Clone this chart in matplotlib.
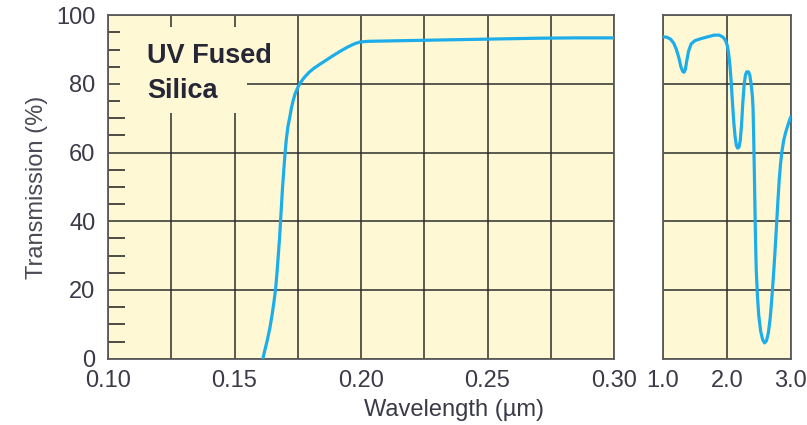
import matplotlib.pyplot as plt
from matplotlib.patches import Rectangle

# UV edge of the transmission curve (wavelength in um, transmission in %)
uv_wl = [0.1612, 0.1620, 0.1630, 0.1640, 0.1648, 0.1655, 0.1662, 0.1668, 0.1673,
         0.1678, 0.1682, 0.1686, 0.1690, 0.1695, 0.1700, 0.1705, 0.1711, 0.1719,
         0.1725, 0.1732, 0.1740, 0.1750, 0.1759, 0.1775, 0.1795, 0.1815, 0.1835,
         0.1860, 0.1889, 0.1920, 0.1949, 0.1975, 0.1996, 0.2030, 0.2100, 0.2250,
         0.2400, 0.2550, 0.2700, 0.2850, 0.3000]
uv_tr = [0.0, 2.5, 5.5, 9.0, 12.5, 16.0, 20.0, 25.0, 30.0,
         35.0, 40.0, 45.0, 50.0, 55.0, 60.0, 64.0, 67.5, 70.5,
         73.0, 75.2, 77.2, 78.9, 80.2, 81.8, 83.4, 84.6, 85.6,
         86.8, 88.2, 89.6, 90.8, 91.7, 92.2, 92.4, 92.5, 92.7,
         92.9, 93.1, 93.3, 93.4, 93.4]

# near-IR part, 1.0 - 3.0 um
ir_wl = [1.00, 1.06, 1.12, 1.17, 1.21, 1.25, 1.28, 1.31, 1.33, 1.35, 1.37,
         1.40, 1.44, 1.50, 1.60, 1.70, 1.80, 1.88, 1.94, 1.98, 2.01, 2.03,
         2.05, 2.07, 2.09, 2.11, 2.13, 2.15, 2.17, 2.19, 2.21, 2.23, 2.25,
         2.27, 2.29, 2.31, 2.34, 2.36, 2.38, 2.40, 2.41, 2.42, 2.43, 2.44,
         2.45, 2.46, 2.48, 2.50, 2.53, 2.56, 2.59, 2.62, 2.65, 2.68, 2.70,
         2.72, 2.74, 2.76, 2.78, 2.80, 2.82, 2.84, 2.86, 2.89, 2.92, 2.96,
         3.00]
ir_tr = [93.7, 93.6, 93.0, 91.8, 90.0, 87.5, 85.0, 83.6, 83.4, 84.2, 86.5,
         89.5, 91.6, 92.6, 93.2, 93.7, 94.2, 94.2, 93.6, 92.6, 91.0, 88.5,
         85.0, 80.0, 74.0, 68.5, 64.5, 62.0, 61.3, 61.6, 63.5, 68.0, 74.5,
         79.5, 82.5, 83.5, 83.5, 82.5, 80.0, 76.5, 73.0, 65.0, 55.0, 44.0,
         34.0, 26.0, 18.0, 12.5, 8.0, 5.6, 4.6, 5.2, 7.5, 12.0, 16.5,
         21.5, 27.0, 33.0, 39.5, 46.0, 52.0, 56.5, 60.0, 63.5, 65.8, 68.2,
         70.4]

uv_ticks = [0.10, 0.125, 0.15, 0.175, 0.20, 0.225, 0.25, 0.275, 0.30]
uv_ticklabels = ['0.10', '', '0.15', '', '0.20', '', '0.25', '', '0.30']
ir_ticks = [1.0, 2.0, 3.0]
ir_ticklabels = ['1.0', '2.0', '3.0']
y_ticks = [0, 20, 40, 60, 80, 100]

plt.rcParams['font.family'] = ['Liberation Sans', 'DejaVu Sans']

bg = '#fef9d4'
line_col = '#1cadea'
grid_col = '#2e2e2e'
text_col = '#3a3a48'

fig = plt.figure(figsize=(8.07, 4.25), dpi=100)
ax1 = fig.add_axes([108 / 807, 66.3 / 425, 506 / 807, 343.5 / 425])
ax2 = fig.add_axes([663 / 807, 66.3 / 425, 127.7 / 807, 343.5 / 425])

for ax in (ax1, ax2):
    ax.set_facecolor(bg)
    ax.set_ylim(0, 100)
    ax.set_yticks(y_ticks)
    ax.grid(True, color=grid_col, linewidth=1.1)
    ax.set_axisbelow(True)
    for s in ax.spines.values():
        s.set_color('#5a5a5a')
        s.set_linewidth(1.3)
    ax.tick_params(colors=text_col, labelsize=17, length=0, pad=8)

ax1.plot(uv_wl, uv_tr, color=line_col, linewidth=2.3, solid_capstyle='round',
         solid_joinstyle='round', zorder=3)
ax1.set_xlim(0.10, 0.30)
ax1.set_xticks(uv_ticks)
ax1.set_xticklabels(uv_ticklabels)
ax1.set_yticks(range(0, 101, 5), minor=True)
ax1.tick_params(axis='y', which='minor', direction='in', length=12, width=1.2,
                color=grid_col)
ax1.tick_params(axis='y', pad=9)
ax1.set_yticklabels([str(v) for v in y_ticks], va='center_baseline')

# plain patch behind the label so the grid stops around it
ax1.add_patch(Rectangle((0.1047, 71.5), 0.0502, 25.1, facecolor=bg,
                        edgecolor='none', zorder=1))
ax1.text(0.1154, 86.1, 'UV Fused', fontsize=19.5, fontweight='bold',
         color='#262636', va='baseline', ha='left', zorder=4)
ax1.text(0.1154, 75.9, 'Silica', fontsize=19.5, fontweight='bold',
         color='#262636', va='baseline', ha='left', zorder=4)

ax1.set_ylabel('Transmission (%)', fontsize=17, color='#4a4a56', labelpad=6)
fig.text(0.5625, 15 / 425, 'Wavelength (\u00b5m)', fontsize=17,
         color=text_col, ha='center', va='center')

ax2.plot(ir_wl, ir_tr, color=line_col, linewidth=2.3, solid_capstyle='round',
         solid_joinstyle='round', zorder=3)
ax2.set_xlim(1.0, 3.0)
ax2.set_xticks(ir_ticks)
ax2.set_xticklabels(ir_ticklabels)
ax2.set_yticklabels([])

fig.savefig('out.png', dpi=100, facecolor='white')
